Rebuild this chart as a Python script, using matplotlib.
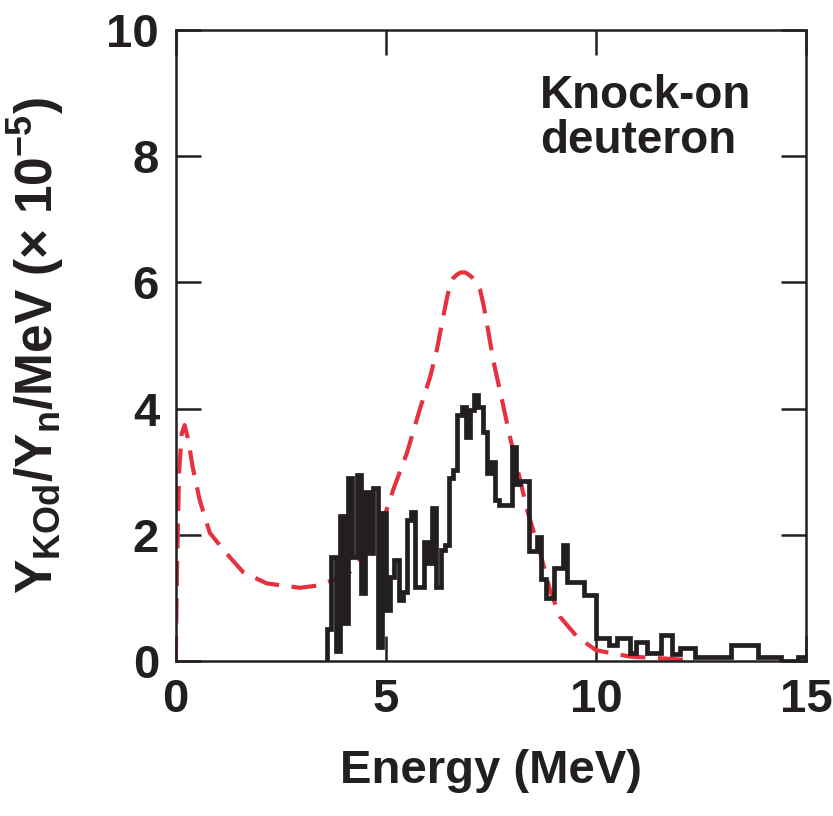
import matplotlib
matplotlib.use('Agg')
import matplotlib.pyplot as plt

plt.rcParams['font.family'] = ['Liberation Sans', 'DejaVu Sans']
plt.rcParams['font.weight'] = 'bold'
plt.rcParams['mathtext.fontset'] = 'custom'
plt.rcParams['mathtext.rm'] = 'Liberation Sans'
plt.rcParams['mathtext.bf'] = 'Liberation Sans:bold'
plt.rcParams['mathtext.it'] = 'Liberation Sans:bold'

# measured knock-on deuteron spectrum (histogram)
hist_edges = [3.6, 3.7, 3.8, 3.9, 4.0, 4.1, 4.2, 4.3, 4.4, 4.5, 4.6, 4.7, 4.8, 4.9,
              5.0, 5.1, 5.2, 5.3, 5.4, 5.5, 5.6, 5.7, 5.8, 5.9, 6.0, 6.1, 6.2, 6.3,
              6.4, 6.5, 6.6, 6.7, 6.8, 6.9, 7.0, 7.1, 7.2, 7.3, 7.4, 7.5, 7.6, 7.7,
              7.8, 7.9, 8.0, 8.1, 8.2, 8.3, 8.4, 8.5, 8.6, 8.7, 8.8, 8.9, 9.0, 9.1,
              9.2, 9.3, 9.4, 9.5, 9.6, 9.7, 9.8, 9.9, 10.0,
              10.3, 10.5, 10.8, 10.95, 11.2, 11.55, 11.8, 12.0, 12.35, 13.2, 13.85,
              14.4, 14.8, 15.0]
hist_vals = [0.5, 1.65, 0.15, 2.3, 0.6, 2.9, 1.65, 2.95, 1.07, 2.68, 1.71, 2.74, 0.22, 2.35,
             0.8, 1.33, 1.6, 0.97, 1.1, 2.23, 2.36, 1.17, 1.17, 1.89, 1.55, 2.42, 1.17, 1.76,
             1.84, 2.9, 3.03, 3.9, 4.03, 3.55, 3.98, 4.22, 4.03, 3.63, 2.98, 3.15, 2.55, 2.47,
             2.47, 2.47, 3.39, 2.8, 2.85, 2.85, 1.75, 1.75, 1.97, 1.3, 1.0, 1.0, 1.47, 1.47,
             1.84, 1.25, 1.25, 1.25, 1.25, 1.05, 1.05, 1.05,
             0.36, 0.25, 0.36, 0.12, 0.3, 0.12, 0.41, 0.11, 0.2, 0.06, 0.25, 0.06,
             0.0, 0.06]

# calculated spectrum (dashed curve)
calc_e = [0.0, 0.03, 0.08, 0.14, 0.21, 0.3, 0.4, 0.57, 0.81, 1.2, 1.6, 2.16, 2.95, 3.43,
          3.9, 4.14, 4.54, 4.86, 5.17, 5.5, 5.81, 6.05, 6.21, 6.36, 6.45, 6.52, 6.6, 6.7,
          6.78, 6.88, 6.98, 7.05, 7.12, 7.24, 7.32, 7.4, 7.55, 7.76, 7.95, 8.19, 8.38,
          8.67, 8.9, 9.14, 9.55, 10.0, 10.8, 11.6, 12.3]
calc_v = [0.0, 1.5, 3.0, 3.6, 3.74, 3.5, 3.08, 2.55, 2.03, 1.71, 1.41, 1.23, 1.16, 1.2,
          1.33, 1.41, 1.71, 2.08, 2.71, 3.3, 4.0, 4.5, 4.93, 5.45, 5.75, 5.95, 6.07, 6.13,
          6.16, 6.16, 6.12, 6.08, 6.02, 5.88, 5.65, 5.36, 4.77, 4.14, 3.55, 2.87, 2.34,
          1.71, 1.13, 0.7, 0.38, 0.17, 0.07, 0.04, 0.01]

fig = plt.figure(figsize=(8.33, 8.16), dpi=100)
ax = fig.add_axes([0.211, 0.19, 0.757, 0.773])

ax.plot(calc_e, calc_v, color='#e5323e', linewidth=3.0, dashes=(6, 3), zorder=2)
ax.stairs(hist_vals, hist_edges, baseline=0, color='#231f20', linewidth=3.4, zorder=3)

ax.set_xlim(0, 15)
ax.set_ylim(0, 10)
ax.set_xticks([0, 5, 10, 15])
ax.set_yticks([0, 2, 4, 6, 8, 10])
ax.tick_params(direction='in', length=18, width=1.8, top=True, right=True,
               labelsize=34, pad=12, color='#231f20', labelcolor='#231f20')
for s in ax.spines.values():
    s.set_linewidth(1.8)
    s.set_color('#231f20')

ax.set_xlabel('Energy (MeV)', fontsize=34, fontweight='bold', labelpad=20, color='#231f20')
ax.set_ylabel(r'$\mathbf{Y_{KOd}/Y_n/MeV}$ $(\times$ $\mathbf{10^{-5}})$', fontsize=37,
              labelpad=28, color='#231f20')

ax.text(0.578, 0.86, 'Knock-on\ndeuteron', transform=ax.transAxes, ha='left', va='center',
        fontsize=33, fontweight='bold', linespacing=1.05, color='#231f20')

fig.savefig('out.png', dpi=100)
